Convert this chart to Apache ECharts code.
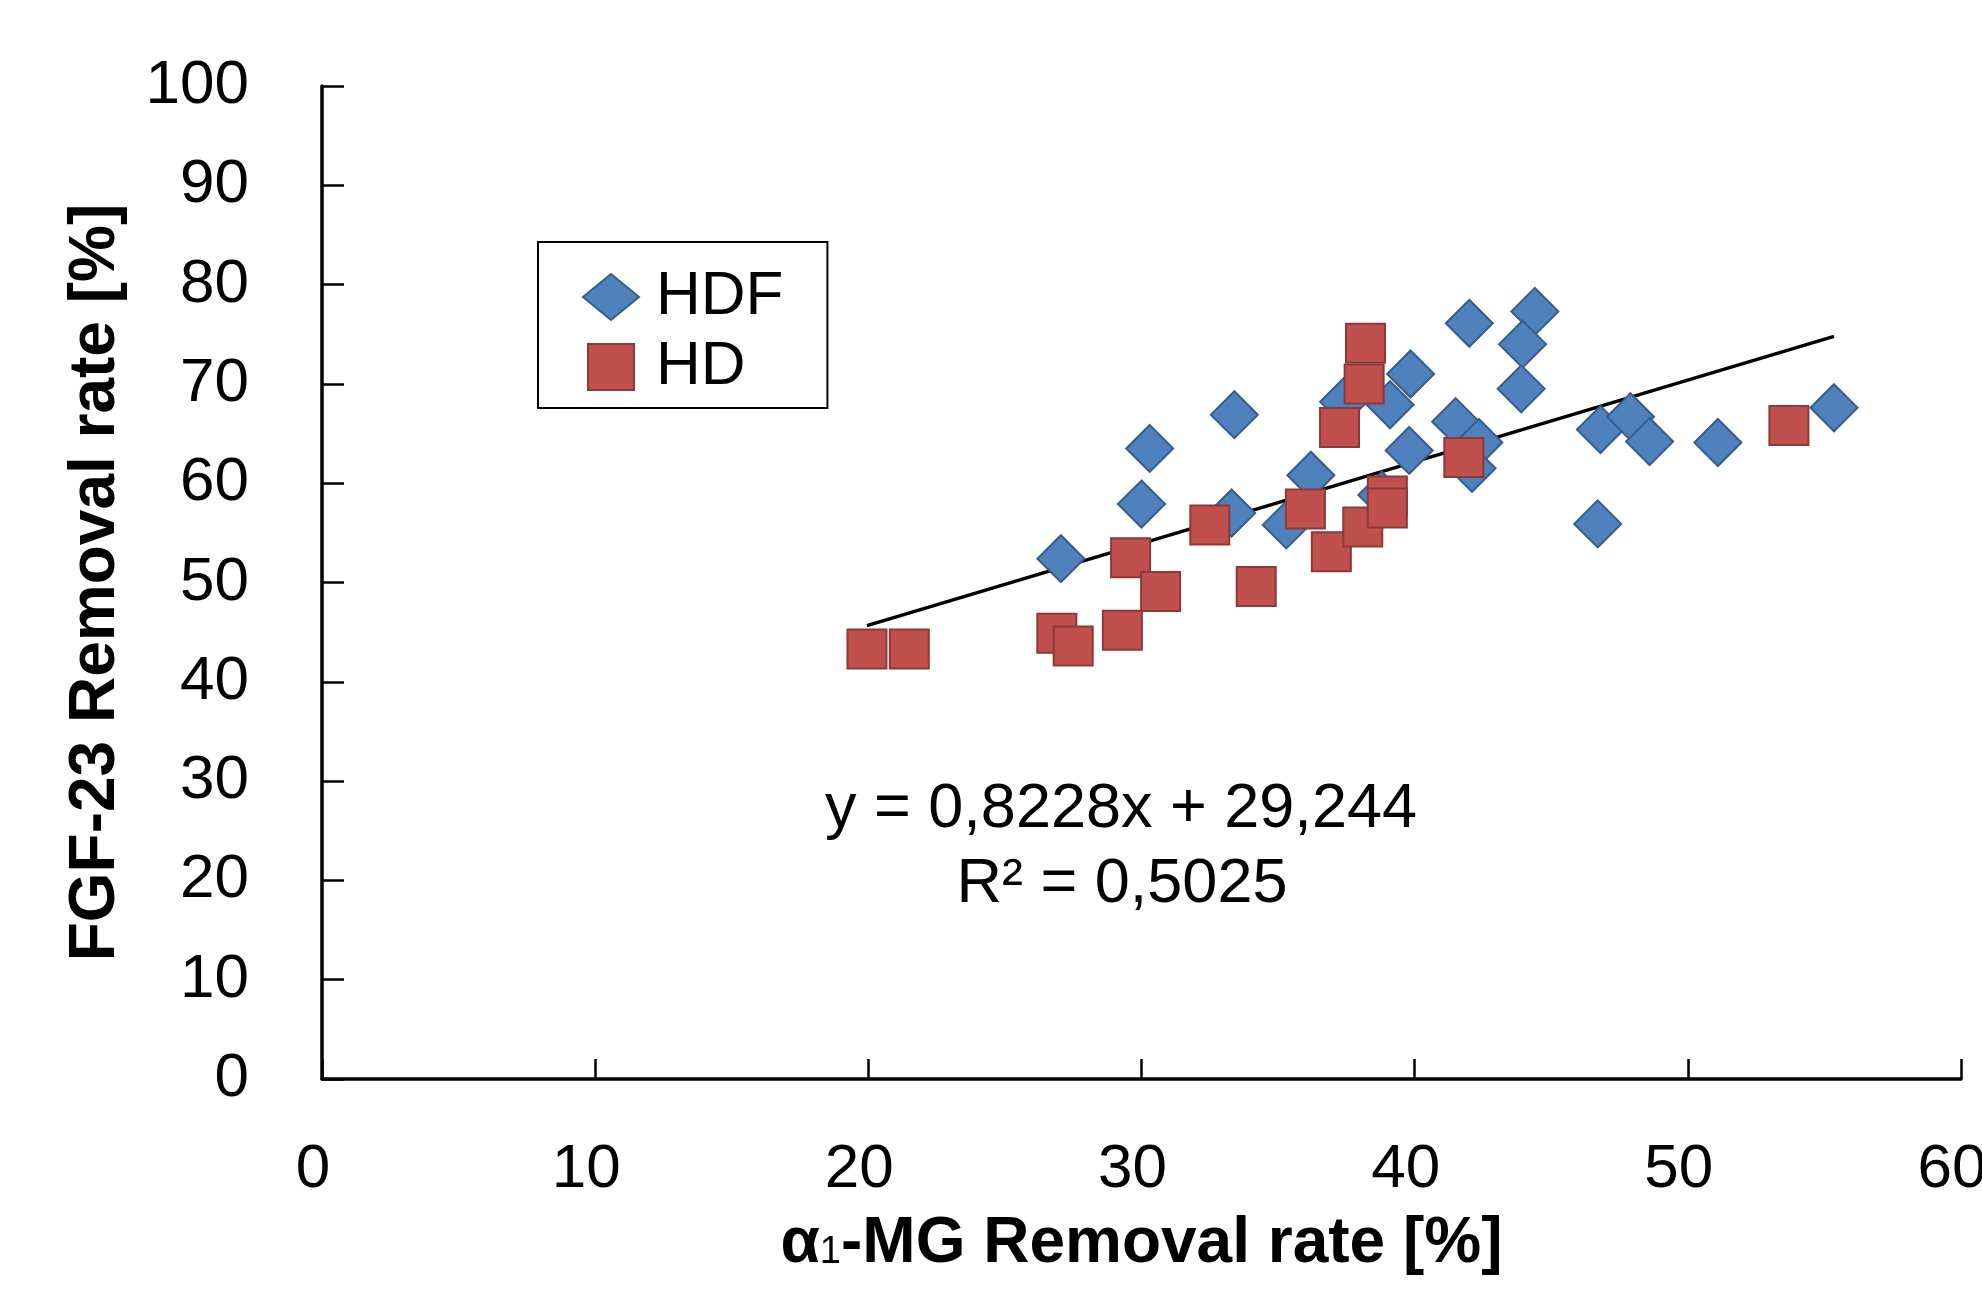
<!DOCTYPE html>
<html>
<head>
<meta charset="UTF-8">
<title>FGF-23 vs α1-MG Removal rate</title>
<script src="https://cdn.jsdelivr.net/npm/echarts@6/dist/echarts.min.js"></script>
<style>
  html, body { margin: 0; padding: 0; background: #fff; }
  #chart { width: 1982px; height: 1299px; }
</style>
</head>
<body>
<div id="chart"></div>
<script>
// HDF points (α1-MG removal %, FGF-23 removal %)
const hdfX = [27.05, 30.3, 30.0, 33.4, 33.3, 35.3, 36.2, 37.4, 39.1, 39.85, 39.8, 38.8, 42.0,
              41.5, 42.35, 42.1, 44.4, 43.95, 43.9, 46.7, 46.8, 47.9, 48.6, 51.1, 55.35];
const hdfY = [52.4, 63.5, 57.9, 66.9, 57.0, 55.8, 60.8, 68.2, 67.9, 71.0, 63.3, 58.8, 76.1,
              66.2, 64.1, 61.5, 77.3, 74.0, 69.5, 55.9, 65.4, 66.7, 64.2, 64.1, 67.6];

// HD points
const hdX = [19.95, 21.5, 26.9, 27.5, 29.3, 29.6, 30.7, 32.5, 34.2, 36.0, 36.95, 37.25,
             38.1, 38.2, 38.15, 39.0, 39.0, 41.8, 53.7];
const hdY = [43.3, 43.3, 44.9, 43.6, 45.2, 52.5, 49.1, 55.8, 49.6, 57.4, 53.1, 65.6,
             55.6, 74.1, 70.0, 58.7, 57.5, 62.6, 65.8];

// linear fit shown on the chart
const fitSlope = 0.8228;
const fitIntercept = 29.244;
const fitR2 = 0.5025;

const xTicks = [0, 10, 20, 30, 40, 50, 60];
const yTicks = [0, 10, 20, 30, 40, 50, 60, 70, 80, 90, 100];

const FONT = 'Liberation Sans, Arial, sans-serif';

const allX = hdfX.concat(hdX);
const xMin = Math.min(...allX);
const xMax = Math.max(...allX);
const fitLine = [xMin, xMax].map(x => [x, fitSlope * x + fitIntercept]);

const comma = v => String(v).replace('.', ',');

const chart = echarts.init(document.getElementById('chart'));

chart.setOption({
    animation: false,
    backgroundColor: '#fff',
    grid: { left: 322, right: 21, top: 86, bottom: 220, outerBoundsMode: 'none', containLabel: false },
    legend: {
        data: [
            { name: 'HDF', icon: 'diamond' },
            { name: 'HD', icon: 'path://M0,0L10,0L10,10L0,10Z' }
        ],
        orient: 'vertical',
        left: 538,
        top: 242,
        padding: [24, 44, 10, 44],
        itemGap: 8,
        itemWidth: 56,
        itemHeight: 46,
        borderColor: '#000',
        borderWidth: 2,
        textStyle: { fontSize: 62, color: '#000', fontFamily: FONT, padding: [0, 0, 0, 12] }
    },
    xAxis: {
        type: 'value',
        min: xTicks[0],
        max: xTicks[xTicks.length - 1],
        interval: 10,
        name: '{a|α}{s|1}{a|-MG Removal rate [%]}',
        nameLocation: 'middle',
        nameGap: 133,
        nameTextStyle: {
            rich: {
                a: { fontSize: 64, fontWeight: 'bold', fontFamily: FONT, color: '#000', verticalAlign: 'bottom' },
                s: { fontSize: 38, fontFamily: FONT, color: '#000', verticalAlign: 'bottom', padding: [0, 0, 4, 0] }
            }
        },
        axisLine: { onZero: false, lineStyle: { color: '#000', width: 3.5 } },
        axisTick: { inside: true, length: 20, lineStyle: { color: '#000', width: 2.5 } },
        axisLabel: { fontSize: 62, color: '#000', fontFamily: FONT, margin: 60, padding: [0, 18, 0, 0] },
        splitLine: { show: false }
    },
    yAxis: {
        type: 'value',
        min: yTicks[0],
        max: yTicks[yTicks.length - 1],
        interval: 10,
        name: 'FGF-23 Removal rate [%]',
        nameLocation: 'middle',
        nameGap: 194,
        nameTextStyle: { fontSize: 64, fontWeight: 'bold', fontFamily: FONT, color: '#000' },
        axisLine: { onZero: false, lineStyle: { color: '#000', width: 3.5 } },
        axisTick: { inside: true, length: 22, lineStyle: { color: '#000', width: 2.5 } },
        axisLabel: { fontSize: 62, color: '#000', fontFamily: FONT, margin: 73 },
        splitLine: { show: false }
    },
    series: [
        {
            name: 'fit',
            type: 'line',
            data: fitLine,
            symbol: 'none',
            silent: true,
            z: 1,
            lineStyle: { color: '#000', width: 3.5 }
        },
        {
            name: 'HDF',
            type: 'scatter',
            data: hdfX.map((x, i) => [x, hdfY[i]]),
            symbol: 'diamond',
            symbolSize: 47,
            z: 2,
            itemStyle: { color: '#4F81BD', borderColor: '#385D8A', borderWidth: 2, opacity: 1 }
        },
        {
            name: 'HD',
            type: 'scatter',
            data: hdX.map((x, i) => [x, hdY[i]]),
            symbol: 'rect',
            symbolSize: 39,
            z: 3,
            itemStyle: { color: '#C0504D', borderColor: '#8C3A38', borderWidth: 2, opacity: 1 }
        }
    ],
    graphic: [
        {
            type: 'text',
            x: 1121,
            y: 810,
            style: {
                text: 'y = ' + comma(fitSlope) + 'x + ' + comma(fitIntercept),
                fontSize: 63, fontFamily: FONT, fill: '#000',
                align: 'center', verticalAlign: 'middle'
            }
        },
        {
            type: 'text',
            x: 1122,
            y: 885,
            style: {
                text: 'R² = ' + comma(fitR2),
                fontSize: 63, fontFamily: FONT, fill: '#000',
                align: 'center', verticalAlign: 'middle'
            }
        }
    ]
});
</script>
</body>
</html>
